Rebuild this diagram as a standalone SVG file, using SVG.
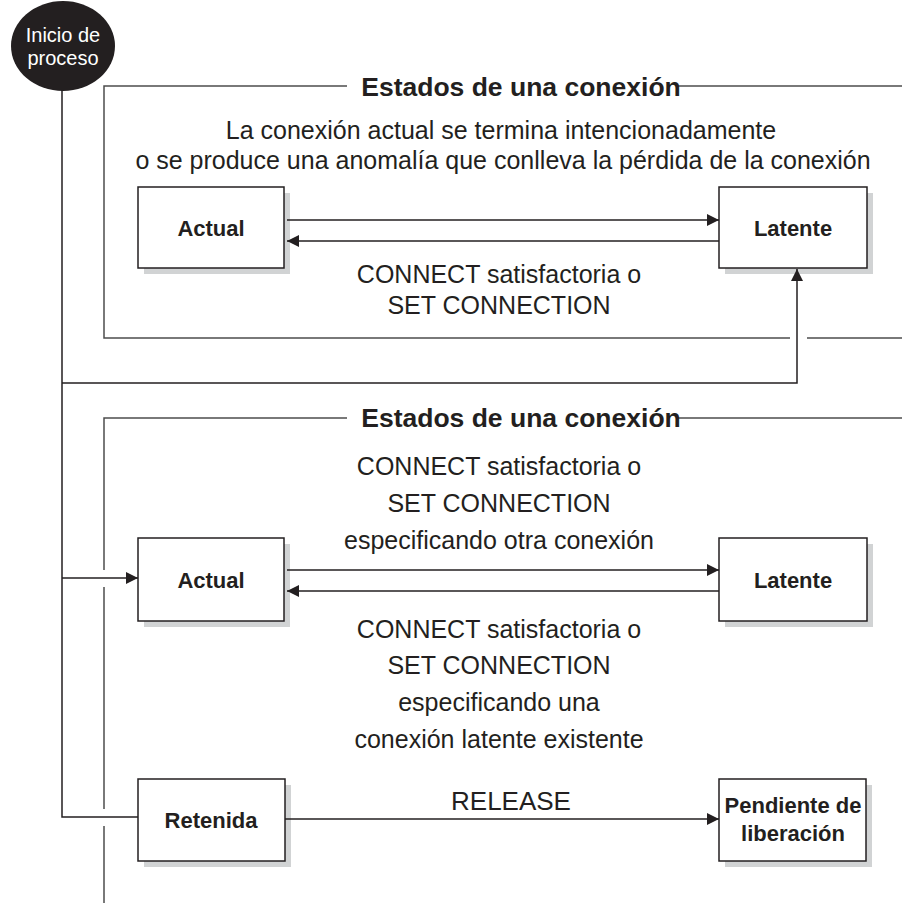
<svg xmlns="http://www.w3.org/2000/svg" width="902" height="903" viewBox="0 0 902 903">
<style>
.ln{fill:none;stroke:#4d4d4d;stroke-width:1.5}
.cn{fill:none;stroke:#231f20;stroke-width:1.5}
.box{fill:#ffffff;stroke:#231f20;stroke-width:1.5}
.sh{fill:#d1d3d4}
.t{font-family:"Liberation Sans",Arial,sans-serif;font-size:25px;fill:#231f20;text-anchor:middle}
.b{font-family:"Liberation Sans",Arial,sans-serif;font-size:22px;font-weight:bold;fill:#231f20;text-anchor:middle}
.h{font-family:"Liberation Sans",Arial,sans-serif;font-size:26.5px;font-weight:bold;fill:#231f20;text-anchor:middle}
.w{font-family:"Liberation Sans",Arial,sans-serif;font-size:20px;fill:#ffffff;text-anchor:middle}
</style>
<defs>
<marker id="ah" viewBox="0 0 12 12" refX="12" refY="6" markerWidth="12" markerHeight="12" markerUnits="userSpaceOnUse" orient="auto">
<path d="M0,0 L12,6 L0,12 Z" fill="#231f20"/>
</marker>
</defs>

<g id="frames">
<path class="ln" d="M347,86 H104 V338 H790 M807,338 H902 M678,86 H902"/>
<text class="h" x="521" y="96">Estados de una conexión</text>
<path class="ln" d="M347,418 H104 V570 M104,587 V809 M104,826 V903 M678,418 H902"/>
<text class="h" x="521" y="427">Estados de una conexión</text>
</g>

<g id="start">
<ellipse cx="63" cy="46" rx="52" ry="45" fill="#231f20"/>
<text class="w" x="63" y="42">Inicio de</text>
<text class="w" x="63" y="65">proceso</text>
</g>

<g id="actual1">
<rect class="sh" x="144" y="193" width="146" height="81"/>
<rect class="box" x="138" y="187" width="146" height="81"/>
<text class="b" x="211" y="236">Actual</text>
</g>
<g id="latente1">
<rect class="sh" x="725" y="193" width="148" height="81"/>
<rect class="box" x="719" y="187" width="148" height="81"/>
<text class="b" x="793" y="236">Latente</text>
</g>
<g id="actual2">
<rect class="sh" x="144" y="544" width="146" height="83"/>
<rect class="box" x="138" y="538" width="146" height="83"/>
<text class="b" x="211" y="588">Actual</text>
</g>
<g id="latente2">
<rect class="sh" x="725" y="544" width="148" height="83"/>
<rect class="box" x="719" y="538" width="148" height="83"/>
<text class="b" x="793" y="588">Latente</text>
</g>
<g id="retenida">
<rect class="sh" x="144" y="785" width="147" height="82"/>
<rect class="box" x="138" y="779" width="147" height="82"/>
<text class="b" x="211" y="828">Retenida</text>
</g>
<g id="pendiente">
<rect class="sh" x="725" y="785" width="147" height="82"/>
<rect class="box" x="719" y="779" width="147" height="82"/>
<text class="b" x="793" y="813">Pendiente de</text>
<text class="b" x="793" y="841">liberación</text>
</g>

<g id="connectors">
<path class="cn" d="M62,90 V817 H138"/>
<path class="cn" d="M62,383 H797 V269" marker-end="url(#ah)"/>
<path class="cn" d="M287,220 H719" marker-end="url(#ah)"/>
<path class="cn" d="M719,241 H287" marker-end="url(#ah)"/>
<path class="cn" d="M62,578 H138" marker-end="url(#ah)"/>
<path class="cn" d="M287,570 H719" marker-end="url(#ah)"/>
<path class="cn" d="M719,591 H287" marker-end="url(#ah)"/>
<path class="cn" d="M285,819 H719" marker-end="url(#ah)"/>
</g>

<g id="labels">
<text class="t" x="501" y="139">La conexión actual se termina intencionadamente</text>
<text class="t" x="503" y="169">o se produce una anomalía que conlleva la pérdida de la conexión</text>
<text class="t" x="499" y="283">CONNECT satisfactoria o</text>
<text class="t" x="499" y="314">SET CONNECTION</text>
<text class="t" x="499" y="475">CONNECT satisfactoria o</text>
<text class="t" x="499" y="512">SET CONNECTION</text>
<text class="t" x="499" y="549">especificando otra conexión</text>
<text class="t" x="499" y="638">CONNECT satisfactoria o</text>
<text class="t" x="499" y="674">SET CONNECTION</text>
<text class="t" x="499" y="711">especificando una</text>
<text class="t" x="499" y="748">conexión latente existente</text>
<text class="t" x="511" y="810" style="font-size:26px">RELEASE</text>
</g>
</svg>
